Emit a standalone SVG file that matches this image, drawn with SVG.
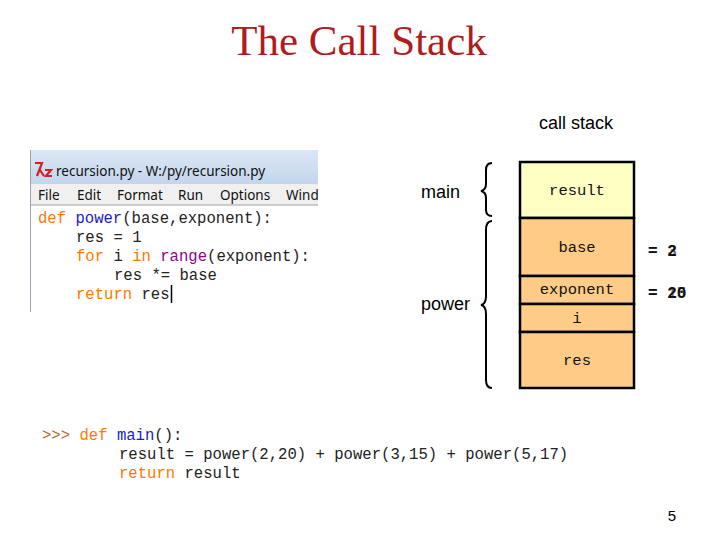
<svg xmlns="http://www.w3.org/2000/svg" width="720" height="540" viewBox="0 0 720 540">
<style>
.code{font-family:"Liberation Mono","Courier New",monospace;font-size:15.6px;fill:#222;white-space:pre}
.kw{fill:#ff7700}
.fn{fill:#1a1acc}
.bi{fill:#900090}
.lbl{font-family:"Liberation Sans",Arial,sans-serif;font-size:18px;fill:#000}
.cell{font-family:"Liberation Mono","Courier New",monospace;font-size:15.5px;fill:#111;text-anchor:middle}
.val{font-family:"Liberation Mono","Courier New",monospace;font-size:16px;font-weight:bold;fill:#111}
.ui{font-family:"Noto Sans","DejaVu Sans",sans-serif;font-size:13.5px;fill:#111}
.brace{fill:none;stroke:#000;stroke-width:2}
.box{stroke:#000;stroke-width:2.5}
</style>
<defs>
<linearGradient id="tb" x1="0" y1="0" x2="0" y2="1">
<stop offset="0" stop-color="#dbe7f5"/>
<stop offset="1" stop-color="#c4d6ec"/>
</linearGradient>
</defs>
<rect width="720" height="540" fill="#fff"/>
<text x="359" y="55" font-family="Liberation Serif,'Times New Roman',serif" font-size="43" fill="#b01c1c" text-anchor="middle">The Call Stack</text>
<text class="lbl" x="576" y="129" text-anchor="middle">call stack</text>

<g id="editor">
<rect x="30" y="150" width="288" height="34" fill="url(#tb)"/>
<rect x="30" y="184" width="288" height="21" fill="#f0f0f0"/>
<line x1="30" y1="205" x2="318" y2="205" stroke="#a0a0a0" stroke-width="1"/>
<rect x="30" y="206" width="288" height="106" fill="#fff"/>
<line x1="30.5" y1="150" x2="30.5" y2="312" stroke="#9aa4b0" stroke-width="1"/>
<path d="M35 163 L42 163 L37 176 M40 170 L44 176 M45 170 L51 170 L46 176 L52 176" fill="none" stroke="#d62020" stroke-width="2.2"/>
<text class="ui" x="56" y="176">recursion.py - W:/py/recursion.py</text>
<text class="ui" x="38" y="200">File</text>
<text class="ui" x="77" y="200">Edit</text>
<text class="ui" x="117" y="200">Format</text>
<text class="ui" x="178" y="200">Run</text>
<text class="ui" x="220" y="200">Options</text>
<text class="ui" x="286" y="200">Wind</text>
<text class="code" x="38" y="223"><tspan class="kw">def</tspan> <tspan class="fn">power</tspan>(base,exponent):</text>
<text class="code" x="76" y="242">res = 1</text>
<text class="code" x="76" y="261"><tspan class="kw">for</tspan> i <tspan class="kw">in</tspan> <tspan class="bi">range</tspan>(exponent):</text>
<text class="code" x="114" y="280">res *= base</text>
<text class="code" x="76" y="299"><tspan class="kw">return</tspan> res</text>
<line x1="171.5" y1="285" x2="171.5" y2="303" stroke="#000" stroke-width="1.5"/>
</g>

<g id="main-code">
<text class="code" x="42" y="440"><tspan fill="#c06030">&gt;&gt;&gt;</tspan> <tspan class="kw">def</tspan> <tspan class="fn">main</tspan>():</text>
<text class="code" x="119" y="459">result = power(2,20) + power(3,15) + power(5,17)</text>
<text class="code" x="119" y="478"><tspan class="kw">return</tspan> result</text>
</g>

<g id="stack">
<rect class="box" x="520" y="162" width="114" height="56" fill="#ffffc4"/>
<rect class="box" x="520" y="218" width="114" height="58" fill="#ffcc88"/>
<rect class="box" x="520" y="276" width="114" height="28" fill="#ffcc88"/>
<rect class="box" x="520" y="304" width="114" height="28" fill="#ffcc88"/>
<rect class="box" x="520" y="332" width="114" height="56" fill="#ffcc88"/>
<text class="cell" x="577" y="195">result</text>
<text class="cell" x="577" y="252">base</text>
<text class="cell" x="577" y="294">exponent</text>
<text class="cell" x="577" y="323">i</text>
<text class="cell" x="577" y="365">res</text>
</g>

<g id="values">
<text class="val" x="648" y="256">= 2</text>
<text class="val" x="648" y="256" opacity="0.6">= 3</text>
<text class="val" x="648" y="298">= 20</text>
<text class="val" x="648" y="298" opacity="0.6">= 15</text>
</g>

<g id="labels">
<text class="lbl" x="421" y="198">main</text>
<text class="lbl" x="421" y="310">power</text>
</g>

<g id="connectors">
<path class="brace" d="M492 163 Q486 163 486 170 L486 184 Q486 190 481 191 Q486 192 486 198 L486 210 Q486 216 492 216"/>
<path class="brace" d="M492 221 Q486 221 486 230 L486 296 Q486 304 481 305 Q486 306 486 314 L486 380 Q486 388 492 388"/>
</g>

<text class="lbl" x="672" y="521" font-size="15" text-anchor="middle" style="font-size:15px">5</text>
</svg>
